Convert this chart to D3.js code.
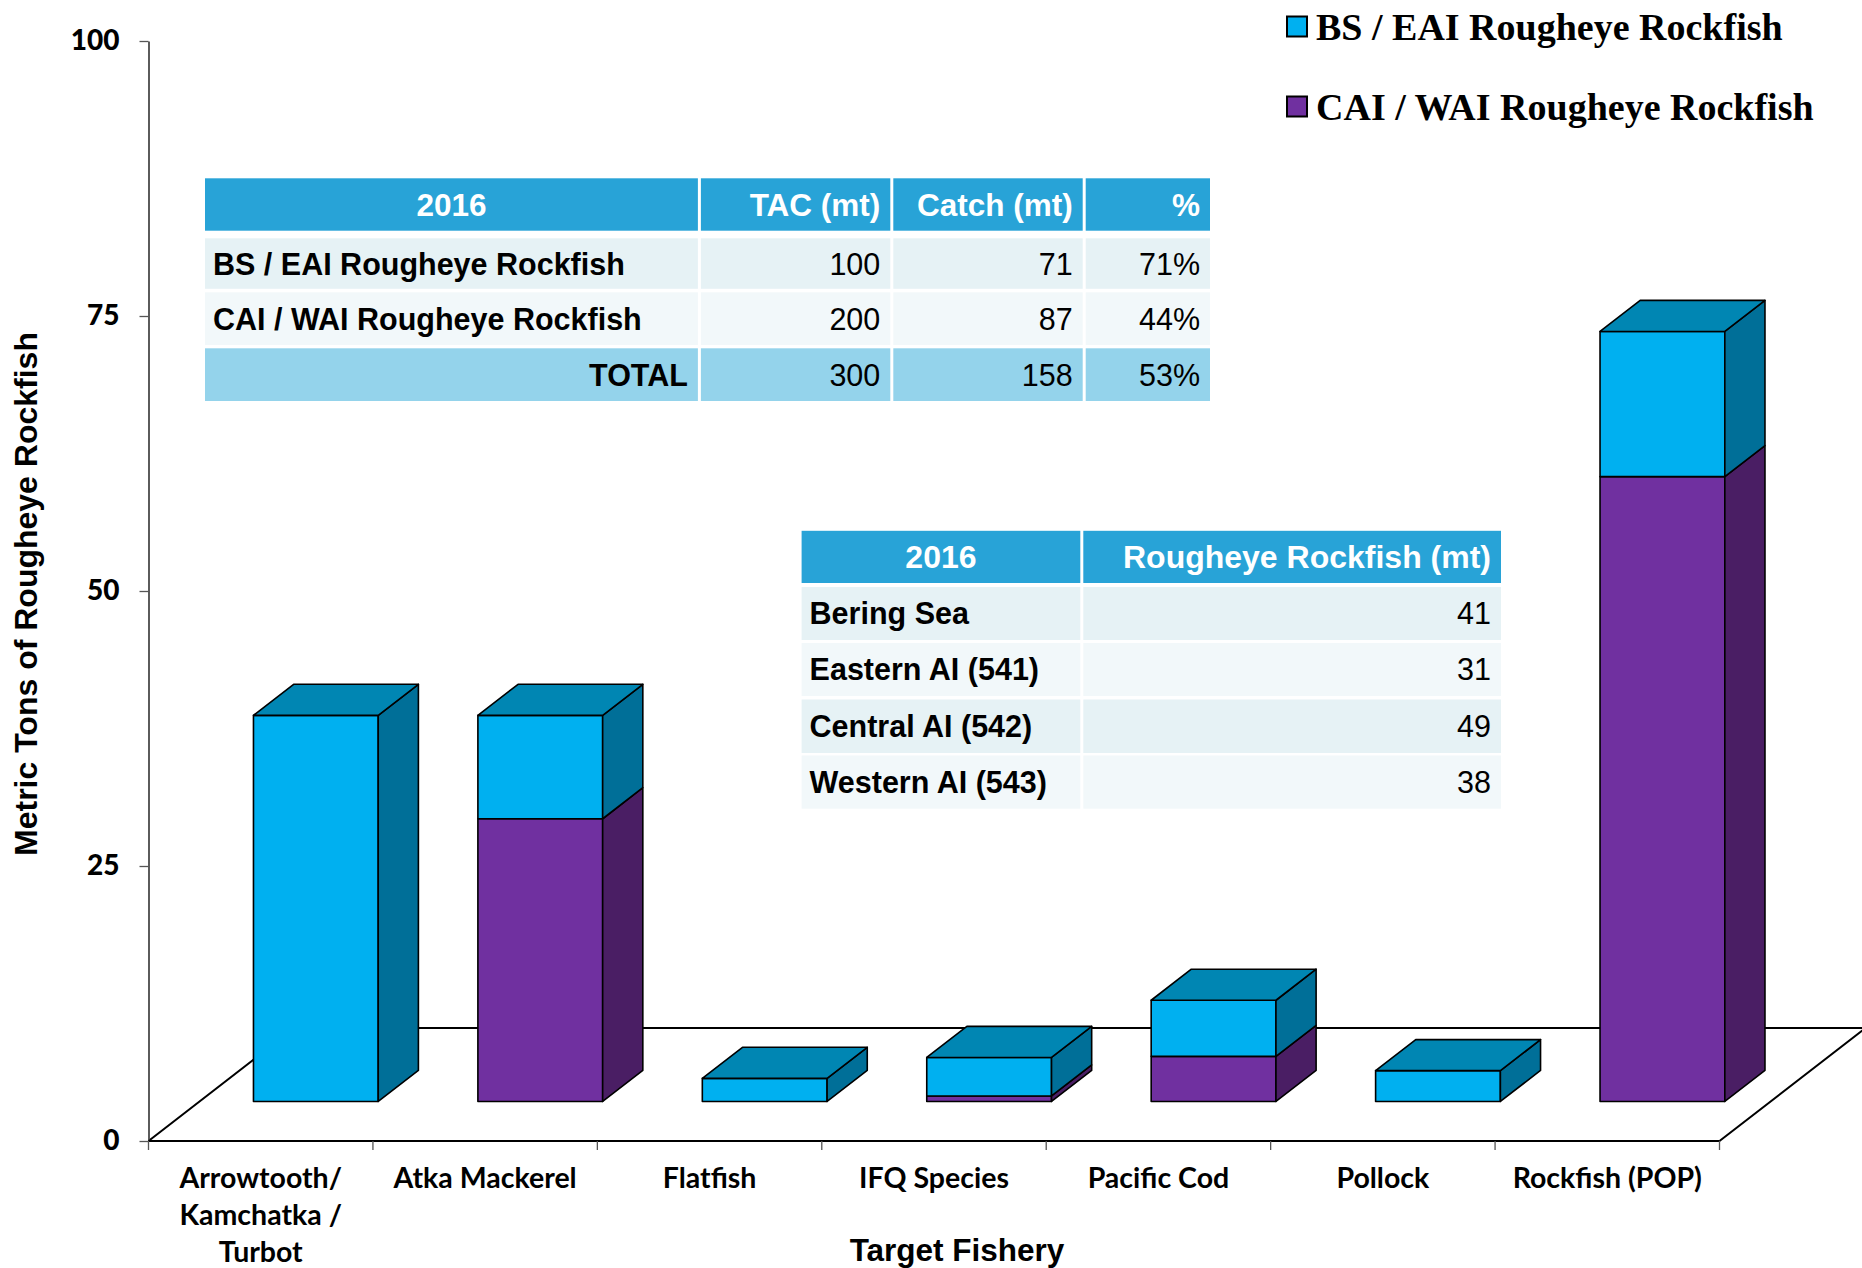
<!DOCTYPE html>
<html>
<head>
<meta charset="utf-8">
<script src="https://cdn.jsdelivr.net/npm/d3@7/dist/d3.min.js"></script>
<style>
  body { margin: 0; background: #fff; }
  svg { display: block; }
</style>
</head>
<body>
<svg id="chart" width="1862" height="1268"></svg>
<script>
// chart data
var categories = ["Arrowtooth/ Kamchatka / Turbot", "Atka Mackerel", "Flatfish", "IFQ Species", "Pacific Cod", "Pollock", "Rockfish (POP)"];
var categoryLines = [["Arrowtooth/", "Kamchatka /", "Turbot"], ["Atka Mackerel"], ["Flatfish"], ["IFQ Species"], ["Pacific Cod"], ["Pollock"], ["Rockfish (POP)"]];
var bsEai = [35.1, 9.4, 2.1, 3.5, 5.1, 2.8, 13.2];
var caiWai = [0, 25.7, 0, 0.5, 4.1, 0, 56.8];
var seriesNames = ["BS / EAI Rougheye Rockfish", "CAI / WAI Rougheye Rockfish"];
var yTicks = [0, 25, 50, 75, 100];

// table 1
var tacHeader = ["2016", "TAC (mt)", "Catch (mt)", "%"];
var tacLabels = ["BS / EAI Rougheye Rockfish", "CAI / WAI Rougheye Rockfish", "TOTAL"];
var tacValues = [100, 200, 300];
var catchValues = [71, 87, 158];
var pctValues = ["71%", "44%", "53%"];

// table 2
var areaHeader = ["2016", "Rougheye Rockfish (mt)"];
var areaLabels = ["Bering Sea", "Eastern AI (541)", "Central AI (542)", "Western AI (543)"];
var areaValues = [41, 31, 49, 38];

var svg = d3.select("#chart");
var sans = "'Liberation Sans', Arial, sans-serif";

var x = d3.scaleBand().domain(categories).range([148.5, 1719.5]).padding(0);
var y = d3.scaleLinear().domain([0, 100]).range([1141, 41]);

// floor depth (oblique projection)
var DX = 146, DY = 113;
var f0 = 0.35, f1 = 0.625;

var colors = {
    bs:  {front: "#00B0F0", side: "#006F98", top: "#0086B3"},
    cai: {front: "#7030A0", side: "#4A1E64", top: "#5A2585"}
};

function px(xv, d) { return xv + d * DX; }
function py(v, d) { return y(v) - d * DY; }

// floor outline
var floor = svg.append("g").attr("fill", "none").attr("stroke", "#000").attr("stroke-width", 2);
floor.append("path").attr("d", d3.line()([
    [px(148.5, 0), py(0, 0)], [px(148.5, 1), py(0, 1)], [px(1719.5, 1), py(0, 1)], [px(1719.5, 0), py(0, 0)]
]));

// y axis
var yAxis = svg.append("g")
    .attr("transform", "translate(148.5,0)")
    .call(d3.axisLeft(y).tickValues(yTicks).tickSize(9).tickSizeOuter(0).tickPadding(20));
yAxis.select(".domain").attr("stroke", "#333").attr("stroke-width", 1.6);
yAxis.selectAll(".tick line").attr("stroke", "#555").attr("stroke-width", 1.3);
yAxis.selectAll(".tick text")
    .attr("font-family", "Lato, sans-serif").attr("font-weight", "900")
    .attr("font-size", 28).attr("fill", "#000");

// x axis line and ticks
var xAxis = svg.append("g").attr("transform", "translate(0," + y(0) + ")");
xAxis.append("line").attr("x1", 148.5).attr("x2", 1719.5)
    .attr("stroke", "#000").attr("stroke-width", 2);
var bounds = categories.map(function(c) { return x(c); }).concat([x.range()[1]]);
xAxis.selectAll(".xt").data(bounds).enter().append("line")
    .attr("x1", function(d) { return d; }).attr("x2", function(d) { return d; })
    .attr("y1", 0).attr("y2", 9)
    .attr("stroke", "#555").attr("stroke-width", 1.3);

// category labels
categories.forEach(function(c, i) {
    var t = svg.append("text")
        .attr("x", x(c) + x.bandwidth() / 2)
        .attr("y", 1179)
        .attr("text-anchor", "middle")
        .attr("font-family", "Lato, sans-serif").attr("font-weight", "bold")
        .attr("font-size", 28.5).attr("fill", "#000");
    categoryLines[i].forEach(function(line, j) {
        t.append("tspan").attr("x", x(c) + x.bandwidth() / 2)
            .attr("y", 1178 + j * 37).attr("dy", "0.35em").text(line);
    });
});

// stacked 3D bars
var rows = categories.map(function(c, i) { return {cat: c, cai: caiWai[i], bs: bsEai[i]}; });
var stack = d3.stack().keys(["cai", "bs"])(rows);
var bw = x.bandwidth() * 0.556;
var off = x.bandwidth() * 0.24;

var bars = svg.append("g").attr("stroke", "#000").attr("stroke-width", 1.6).attr("stroke-linejoin", "round");
categories.forEach(function(c, i) {
    var x0 = px(x(c) + off, f0), x1 = x0 + bw;
    var sx = (f1 - f0) * DX, sy = (f1 - f0) * DY;
    var topKey = null, topVal = 0;
    stack.forEach(function(s) {
        var seg = s[i];
        if (seg[1] - seg[0] <= 0) return;
        var col = colors[s.key];
        var yt = py(seg[1], f0), yb = py(seg[0], f0);
        bars.append("rect").attr("x", x0).attr("y", yt).attr("width", bw).attr("height", yb - yt)
            .attr("fill", col.front);
        bars.append("path").attr("fill", col.side)
            .attr("d", d3.line()([[x1, yt], [x1 + sx, yt - sy], [x1 + sx, yb - sy], [x1, yb]]) + "Z");
        topKey = s.key; topVal = seg[1];
    });
    if (topKey) {
        var yt2 = py(topVal, f0);
        bars.append("path").attr("fill", colors[topKey].top)
            .attr("d", d3.line()([[x0, yt2], [x0 + sx, yt2 - sy], [x1 + sx, yt2 - sy], [x1, yt2]]) + "Z");
    }
});

// axis titles
svg.append("text")
    .attr("transform", "translate(26,594) rotate(-90)")
    .attr("text-anchor", "middle").attr("dy", "0.35em")
    .attr("font-family", sans).attr("font-weight", "bold").attr("font-size", 32)
    .text("Metric Tons of Rougheye Rockfish");
svg.append("text")
    .attr("x", 957).attr("y", 1250).attr("dy", "0.35em")
    .attr("text-anchor", "middle")
    .attr("font-family", sans).attr("font-weight", "bold").attr("font-size", 31.5)
    .text("Target Fishery");

// legend
var legend = svg.append("g");
[["bs", 27], ["cai", 107]].forEach(function(l, i) {
    legend.append("rect").attr("x", 1287).attr("y", l[1] - 10.5).attr("width", 20).attr("height", 20)
        .attr("fill", colors[l[0]].front).attr("stroke", "#000").attr("stroke-width", 2);
    legend.append("text").attr("x", 1316).attr("y", l[1]).attr("dy", "0.34em")
        .attr("font-family", "'Liberation Serif', 'Times New Roman', serif")
        .attr("font-weight", "bold").attr("font-size", 38)
        .text(seriesNames[i]);
});

// tables
function drawTable(cols, rowsY, cells) {
    var g = svg.append("g").attr("font-family", sans);
    cells.forEach(function(row, r) {
        row.forEach(function(cell, c) {
            var xa = cols[c] + (c > 0 ? 1.5 : 0), xb = cols[c + 1] - (c < cols.length - 2 ? 1.5 : 0);
            g.append("rect").attr("x", xa).attr("y", rowsY[r][0])
                .attr("width", xb - xa).attr("height", rowsY[r][1] - rowsY[r][0])
                .attr("fill", cell.bg);
            var tx = cell.align === "start" ? xa + 8 : cell.align === "middle" ? (xa + xb) / 2 : xb - 10;
            g.append("text").attr("x", tx).attr("y", (rowsY[r][0] + rowsY[r][1]) / 2)
                .attr("dy", "0.36em").attr("text-anchor", cell.align)
                .attr("font-size", cell.size).attr("font-weight", cell.bold ? "bold" : "normal")
                .attr("fill", cell.color).text(cell.text);
        });
    });
}

var HEAD = "#28A3D7", ROW_A = "#E6F2F5", ROW_B = "#F2F8FA", TOT = "#94D3EB";

var t1 = [tacHeader.map(function(h, c) {
    return {text: h, bg: HEAD, color: "#fff", bold: true, size: 31.5, align: c === 0 ? "middle" : "end"};
})];
tacLabels.forEach(function(lbl, r) {
    var bg = r === 2 ? TOT : (r === 0 ? ROW_A : ROW_B);
    t1.push([
        {text: lbl, bg: bg, color: "#000", bold: true, size: 30.5, align: r === 2 ? "end" : "start"},
        {text: tacValues[r], bg: bg, color: "#000", size: 30.5, align: "end"},
        {text: catchValues[r], bg: bg, color: "#000", size: 30.5, align: "end"},
        {text: pctValues[r], bg: bg, color: "#000", size: 30.5, align: "end"}
    ]);
});
drawTable([205, 699.4, 891.8, 1084.2, 1210],
    [[178.3, 230.7], [238.3, 288.8], [292.3, 345], [348.3, 401]], t1);

var t2 = [areaHeader.map(function(h, c) {
    return {text: h, bg: HEAD, color: "#fff", bold: true, size: 32, align: c === 0 ? "middle" : "end"};
})];
areaLabels.forEach(function(lbl, r) {
    var bg = r % 2 === 0 ? ROW_A : ROW_B;
    t2.push([
        {text: lbl, bg: bg, color: "#000", bold: true, size: 30.5, align: "start"},
        {text: areaValues[r], bg: bg, color: "#000", size: 30.5, align: "end"}
    ]);
});
drawTable([801.6, 1081.8, 1501],
    [[530.8, 583], [587, 640], [643, 696], [699.5, 753], [755.5, 808.7]], t2);
</script>
</body>
</html>
